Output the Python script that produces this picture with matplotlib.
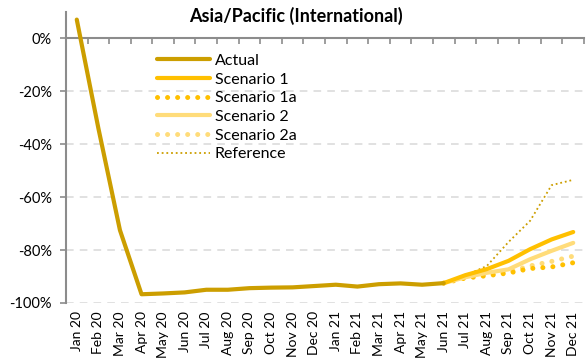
import numpy as np
import matplotlib.pyplot as plt

plt.rcParams["font.family"] = ["Lato", "DejaVu Sans"]

months = ["Jan 20", "Feb 20", "Mar 20", "Apr 20", "May 20", "Jun 20", "Jul 20", "Aug 20",
          "Sep 20", "Oct 20", "Nov 20", "Dec 20", "Jan 21", "Feb 21", "Mar 21", "Apr 21",
          "May 21", "Jun 21", "Jul 21", "Aug 21", "Sep 21", "Oct 21", "Nov 21", "Dec 21"]

# % change vs 2019
actual = [7, -34, -72.5, -96.7, -96.4, -96.0, -95.0, -95.0, -94.4, -94.2, -94.1, -93.6,
          -93.1, -93.8, -92.9, -92.6, -93.1, -92.5]
scen1 = [-92.5, -89.5, -87.2, -84.1, -79.7, -76.0, -73.2]
scen1a = [-92.5, -90.6, -89.7, -88.7, -87.0, -86.4, -84.8]
scen2 = [-92.5, -90.3, -88.6, -87.3, -83.5, -80.3, -77.3]
scen2a = [-92.5, -90.2, -89.2, -88.2, -86.0, -84.3, -82.3]
reference = [-92.5, -89.7, -86.0, -77.0, -69.0, -55.5, -53.5]

x_all = np.arange(len(months))
x_act = x_all[:len(actual)]
x_fc = x_all[len(actual) - 1:]

fig = plt.figure(figsize=(5.86, 3.64), dpi=100)
ax = fig.add_axes([0.1126, 0.1676, 0.884, 0.8004])

c_act = "#CC9E00"
c_s1 = "#FFC000"
c_s2 = "#FFDC7A"

ax.plot(x_fc, reference, color=c_act, lw=1.3, ls=(0, (1, 1.6)), label="Reference", zorder=3)
ax.plot(x_fc, scen2a, color=c_s2, lw=3.6, ls=(0, (0.01, 2.0)), dash_capstyle="round",
        label="Scenario 2a", zorder=3)
ax.plot(x_fc, scen1a, color=c_s1, lw=3.6, ls=(0, (0.01, 2.0)), dash_capstyle="round",
        label="Scenario 1a", zorder=3)
ax.plot(x_fc, scen2, color=c_s2, lw=3, solid_capstyle="round", label="Scenario 2", zorder=4)
ax.plot(x_fc, scen1, color=c_s1, lw=3, solid_capstyle="round", label="Scenario 1", zorder=4)
ax.plot(x_act, actual, color=c_act, lw=3, solid_capstyle="round", label="Actual", zorder=5)

ax.set_xlim(-0.5, 23.5)
ax.set_ylim(-100, 10)

# y axis
ax.set_yticks([0, -20, -40, -60, -80, -100])
ax.set_yticklabels(["0%", "-20%", "-40%", "-60%", "-80%", "-100%"], fontsize=10.5)
ax.tick_params(axis="y", direction="out", length=4, width=1.2, color="#8C8C8C", pad=6)
for v in [-20, -40, -60, -80, -100]:
    ax.axhline(v, color="#D9D9D9", lw=1.1, ls=(0, (5, 4)), zorder=1)

# x axis line at 0 with tick marks between categories
ax.spines["bottom"].set_position(("data", 0))
ax.spines["bottom"].set_color("#8C8C8C")
ax.spines["bottom"].set_linewidth(1.5)
ax.spines["left"].set_color("#8C8C8C")
ax.spines["left"].set_linewidth(1.5)
ax.spines["top"].set_visible(False)
ax.spines["right"].set_visible(False)
ax.set_xticks(x_all)
ax.set_xticks(np.arange(0.5, 23.6, 1), minor=True)
ax.tick_params(axis="x", which="major", length=0, labelbottom=False)
ax.tick_params(axis="x", which="minor", direction="out", length=4, width=1.2, color="#8C8C8C")

sec = ax.secondary_xaxis("bottom")
sec.set_xticks(x_all)
sec.set_xticklabels(months, rotation=90, fontsize=10)
sec.tick_params(length=0, pad=6)
sec.spines["bottom"].set_visible(False)

fig.text(0.505, 0.956, "Asia/Pacific (International)", fontsize=13, fontweight="bold",
         ha="center", va="center")

handles, labels = ax.get_legend_handles_labels()
order = ["Actual", "Scenario 1", "Scenario 1a", "Scenario 2", "Scenario 2a", "Reference"]
hmap = dict(zip(labels, handles))
ax.legend([hmap[k] for k in order], order, loc="upper left", bbox_to_anchor=(0.176, 0.855),
          frameon=False, fontsize=11.5, handlelength=3.3, handletextpad=0.3,
          labelspacing=0.28, borderaxespad=0, borderpad=0)

fig.savefig("out.png", dpi=100)
